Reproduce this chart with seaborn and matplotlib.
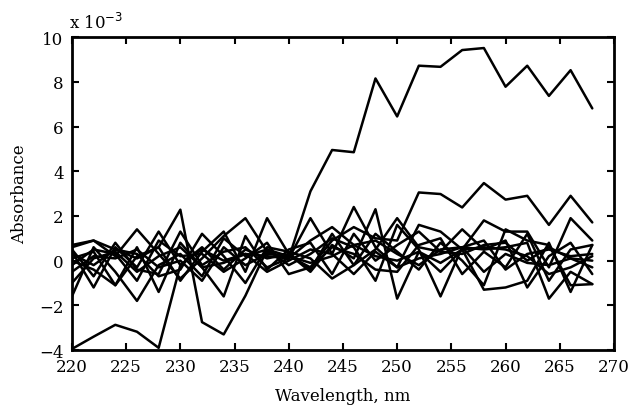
import numpy as np
import pandas as pd
import matplotlib
matplotlib.use("Agg")
import matplotlib.pyplot as plt
import seaborn as sns

wavelength = list(range(220, 270, 2))

# absorbance values in units of 1e-3
s0 = [-3.95, -3.4, -2.87, -3.18, -3.9, -0.2, 0.5, 0.0, 0.3, 0.2, 0.1, 3.1, 4.95, 4.85, 8.15, 6.45, 8.72, 8.67, 9.42, 9.51, 7.78, 8.72, 7.37, 8.52, 6.81]
s1 = [0.3, -0.2, 0.5, 0.1, 0.6, 2.28, -2.75, -3.3, -1.57, 0.5, 0.2, -0.3, 0.9, 1.5, 1.0, 0.9, 3.05, 2.98, 2.38, 3.47, 2.73, 2.9, 1.6, 2.9, 1.71]
s2 = [0.7, 0.9, 0.2, 1.4, 0.3, -0.8, 0.1, 1.1, 1.9, 0.4, 0.1, 1.9, 0.3, 2.4, 0.6, -0.3, 1.6, 1.3, 0.5, 1.8, 1.3, 1.3, -0.3, 1.9, 0.9]
s3 = [0.4, -1.2, 0.6, -0.3, 1.3, -0.2, 0.6, -0.4, 0.5, 0.1, 0.3, -0.5, 0.7, 0.1, 2.3, -1.7, 0.4, -0.1, 0.5, -1.3, -1.2, -0.9, 0.8, -1.4, 0.7]
s4 = [-1.6, 0.6, -0.5, -1.8, -0.2, 0.3, -0.7, 1.0, 0.2, 0.5, -0.2, 0.3, 1.0, 0.6, -0.9, 1.6, 0.5, -1.6, 0.6, 0.5, 0.6, 0.8, -1.7, -0.5, -1.05]
s5 = [0.1, 0.4, -1.1, 0.6, -1.4, 0.8, -0.3, -1.6, 1.1, -0.4, 0.5, 0.8, -0.6, 1.2, 0.0, 0.7, 1.3, 0.4, 1.4, 0.5, 0.9, -1.2, 0.2, 0.8, -0.6]
s6 = [-0.5, 0.2, 0.1, 0.5, -0.3, 0.0, -0.9, 0.6, -0.2, 0.3, 0.2, -0.1, 0.2, 0.7, 0.9, 0.3, -0.2, 0.5, 0.6, 0.9, -0.4, 0.3, 0.5, 0.2, 0.3]
s7 = [0.6, 0.9, 0.5, 0.3, -0.7, -0.4, 1.2, 0.2, -1.0, 0.6, 0.4, 0.1, -0.8, -0.2, 1.2, 0.4, -0.4, 0.8, 0.0, -1.1, 1.4, 0.9, 0.7, -1.1, -1.05]
s8 = [-1.0, 0.1, 0.4, -0.5, 0.2, 0.6, -0.3, -0.1, 0.3, -0.5, 0.0, 0.5, 0.3, -0.6, 0.4, -0.3, 0.1, 0.3, 0.6, -0.5, 0.3, -0.1, -0.2, 0.1, 0.0]
s9 = [0.0, -0.4, -1.1, 0.2, 0.6, -0.9, 0.4, 1.3, -0.5, 1.9, 0.3, -0.4, 1.2, -0.2, 0.5, 1.9, 0.6, 0.4, 0.3, 0.7, 0.8, 0.0, 0.6, 0.1, -0.3]
s10 = [-0.2, 0.5, 0.3, -0.9, 0.9, 0.2, 0.3, -0.5, 0.1, 0.8, -0.6, -0.3, 0.6, 0.3, -0.4, -0.5, 0.7, 1.0, -0.6, 0.4, -0.3, 1.2, -0.9, 0.5, 0.7]
s11 = [0.5, -0.7, 0.8, -0.4, -0.6, 1.3, -0.2, 0.4, 0.6, -0.3, 0.1, 0.9, 1.5, 0.7, 0.2, 0.0, 0.4, -0.5, 0.5, 0.6, 0.5, 0.2, -0.6, -0.3, 0.2]

series = [s0, s1, s2, s3, s4, s5, s6, s7, s8, s9, s10, s11]

xticks = [220, 225, 230, 235, 240, 245, 250, 255, 260, 265, 270]
yticks = [-4, -2, 0, 2, 4, 6, 8, 10]

rows = []
for i, s in enumerate(series):
    for w, v in zip(wavelength, s):
        rows.append({"Wavelength": w, "Absorbance": v, "run": i})
df = pd.DataFrame(rows)

sns.set_theme(style="ticks")
plt.rcParams['font.family'] = ['DejaVu Serif']
plt.rcParams['text.color'] = 'black'
plt.rcParams['axes.labelcolor'] = 'black'

fig = plt.figure(figsize=(6.31, 4.14), dpi=100)
ax = fig.add_axes([0.114, 0.152, 0.859, 0.756])

sns.lineplot(data=df, x="Wavelength", y="Absorbance", units="run", estimator=None,
             color="black", linewidth=1.8, ax=ax, legend=False)

ax.set_xlim(220, 270)
ax.set_ylim(-4, 10)
ax.set_xticks(xticks)
ax.set_yticks(yticks)
ax.tick_params(direction="in", top=True, right=True, length=5, width=1.5,
               labelsize=12, colors="black", pad=6)
for sp in ax.spines.values():
    sp.set_visible(True)
    sp.set_linewidth(2)
    sp.set_color("black")

ax.set_xlabel("Wavelength, nm", fontsize=12, labelpad=8, color="black")
ax.set_ylabel("Absorbance", fontsize=12, labelpad=8, color="black")
ax.text(-0.005, 1.015, "x 10$^{-3}$", transform=ax.transAxes, fontsize=12,
        ha="left", va="bottom", color="black")

fig.savefig("out.png", dpi=100)
